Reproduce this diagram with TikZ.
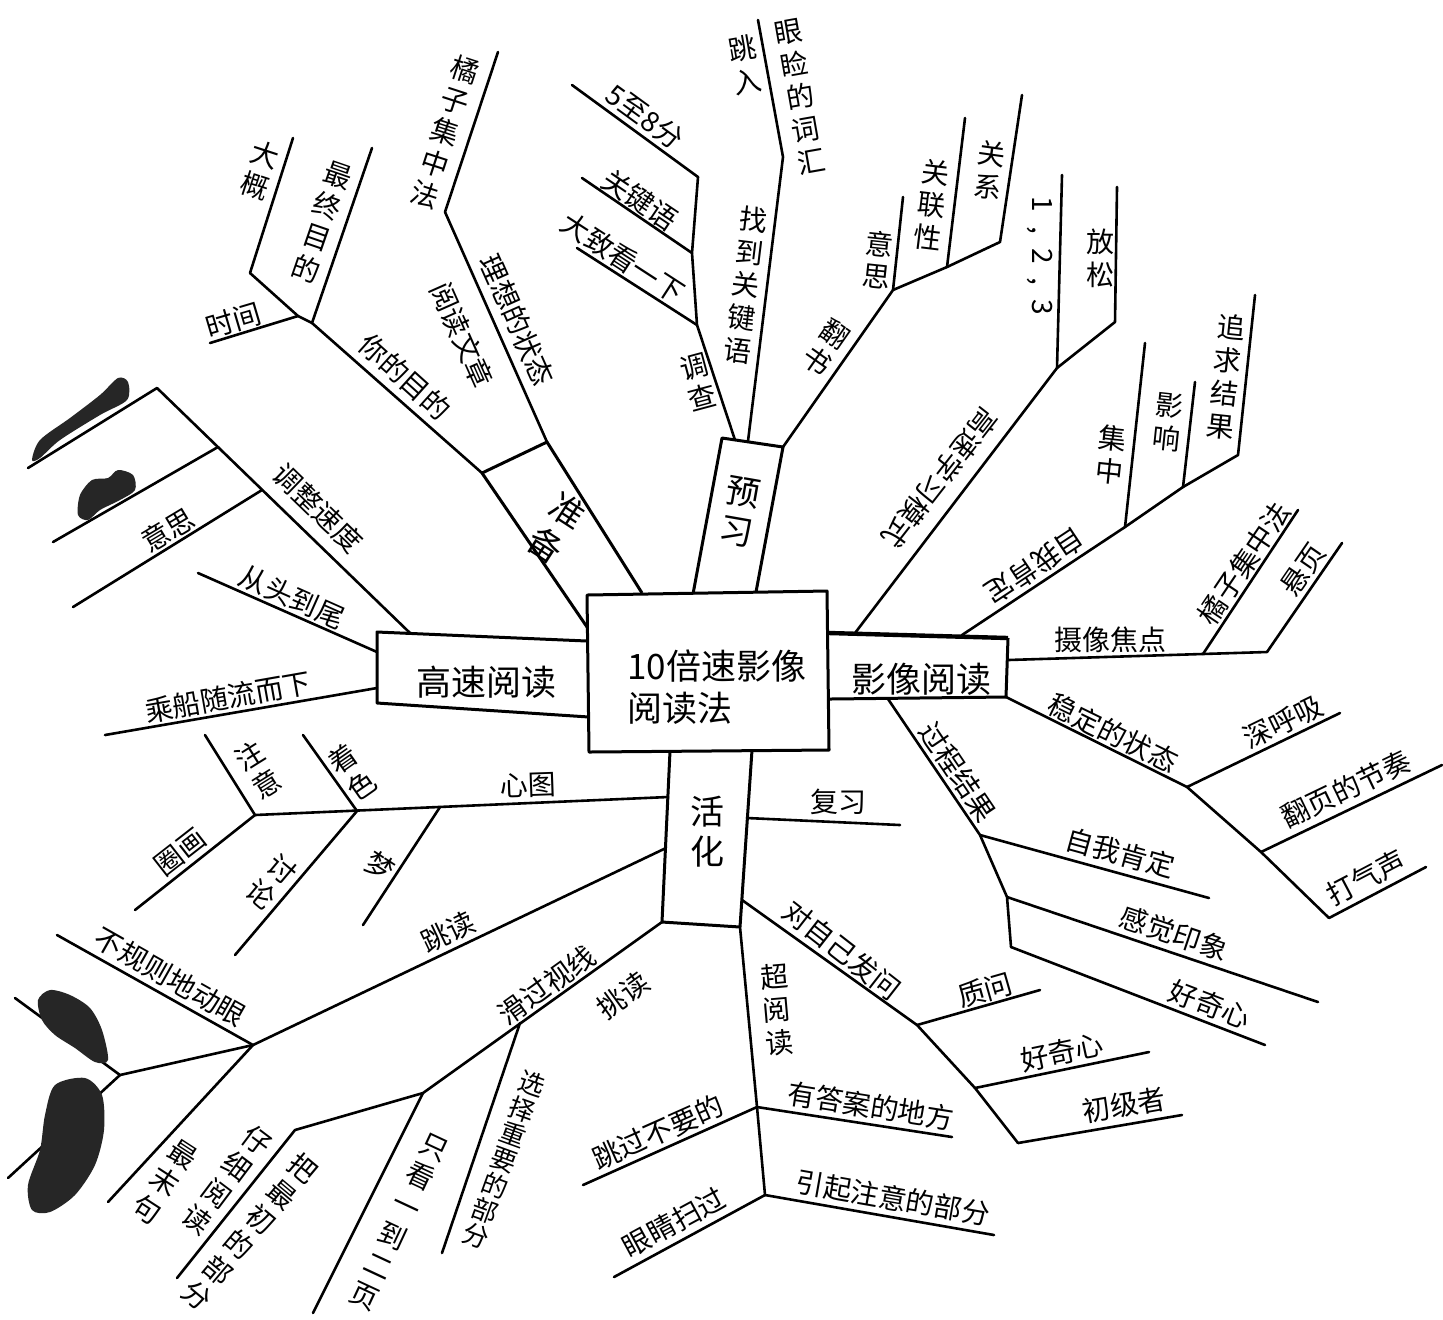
\documentclass[tikz,border=0pt]{standalone}
\usepackage{fontspec}
\setmainfont{Noto Sans CJK SC}
\begin{document}
\begin{tikzpicture}[x=0.5pt,y=-0.5pt,
  br/.style={line width=1.3pt, line cap=round, line join=round},
  bx/.style={line width=1.5pt, line join=round},
  lbl/.style={font=\fontsize{14}{16.5}\selectfont, inner sep=0pt},
  vlbl/.style={lbl, align=center},
  boxt/.style={font=\fontsize{17.5}{20}\selectfont, inner sep=0pt},
  boxv/.style={font=\fontsize{17}{20}\selectfont, inner sep=0pt, align=center},
  blob/.style={fill=black!85, draw=none}]
\useasboundingbox (0,0) rectangle (1443,1319);
\fill[white] (0,0) rectangle (1443,1319);

% ---------- centre box ----------
\coordinate (C1) at (587,595); \coordinate (C2) at (827,591);
\coordinate (C3) at (829,750); \coordinate (C4) at (589,752);
\draw[bx] (C1)--(C2)--(C3)--(C4)--cycle;
\node[boxt, anchor=west] (t10) at (627,666) {10倍速影像};
\node[boxt, anchor=west] (tyd) at (627,708) {阅读法};

% ---------- 高速阅读 ----------
\coordinate (G1) at (377,632); \coordinate (G2) at (587,641);
\coordinate (G3) at (589,717); \coordinate (G4) at (377,703);
\draw[bx] (G2)--(G1)--(G4)--(G3);
\node[boxt] (tgs) at (486,682) {高速阅读};

% ---------- 影像阅读 ----------
\coordinate (Y1) at (829,633); \coordinate (Y2) at (1008,638);
\coordinate (Y3) at (1006,697); \coordinate (Y4) at (830,699);
\draw[bx, line width=2.2pt] (Y1)--(Y2);
\draw[bx] (Y2)--(Y3)--(Y4);
\node[boxt] (tyx) at (921,679) {影像阅读};

% ---------- 准备 ----------
\coordinate (Z1) at (482,473); \coordinate (Z2) at (547,442);
\coordinate (Z3) at (587,627); \coordinate (Z4) at (642,593);
\draw[bx] (Z3)--(Z1)--(Z2)--(Z4);
\node[boxv, rotate=-33] (tzb) at (557,528) {准\\备};

% ---------- 预习 ----------
\coordinate (P1) at (722,438); \coordinate (P2) at (783,447);
\coordinate (P3) at (693,594); \coordinate (P4) at (756,592);
\draw[bx] (P3)--(P1)--(P2)--(P4);
\node[boxv, rotate=-10] (tyxi) at (740,512) {预\\习};

% ---------- 活化 ----------
\coordinate (H1) at (670,751); \coordinate (H2) at (752,750);
\coordinate (H3) at (662,922); \coordinate (H4) at (740,927);
\draw[bx] (H1)--(H3)--(H4);
\draw[bx] (H2)--(H4);
\node[boxv] (thh) at (707,832) {活\\化};

% ---------- 调整速度 group ----------
\coordinate (A0) at (410,633); \coordinate (A1) at (157,388);
\coordinate (A2) at (218,447); \coordinate (A3) at (262,490);
\coordinate (AL1) at (28,468); \coordinate (AL2) at (53,542); \coordinate (AL3) at (73,607);
\draw[br] (A0)--(A1)--(AL1);
\draw[br] (A2)--(AL2);
\draw[br] (A3)--(AL3);
\node[lbl, rotate=-44] (ltz) at (318,508) {调整速度};
\node[lbl, rotate=31] (lys1) at (168,530) {意思};
\fill[blob] plot[smooth cycle] coordinates {(32,460) (40,440) (70,418) (100,395) (118,378) (128,382) (127,400) (100,415) (60,440) (40,458)};
\fill[blob] plot[smooth cycle] coordinates {(78,515) (80,495) (92,480) (108,478) (118,470) (133,475) (135,490) (120,500) (100,510) (88,520)};

% ---------- 从头到尾 / 乘船随流而下 ----------
\coordinate (F0) at (377,652); \coordinate (F1) at (198,573);
\draw[br] (F0)--(F1);
\node[lbl, rotate=-24] (lct) at (292,597) {从头到尾};
\coordinate (S0) at (377,688); \coordinate (S1) at (105,735);
\draw[br] (S0)--(S1);
\node[lbl, rotate=10] (lcc) at (228,697) {乘船随流而下};

% ---------- 心图 ----------
\coordinate (X0) at (668,797); \coordinate (X1) at (255,815);
\coordinate (X2) at (357,811); \coordinate (X3) at (440,807);
\coordinate (N1) at (205,735); \coordinate (Q1) at (135,910);
\coordinate (K1) at (303,735); \coordinate (T1) at (235,955); \coordinate (M1) at (363,925);
\draw[br] (X0)--(X1)--(N1);
\draw[br] (X1)--(Q1);
\draw[br] (X2)--(K1);
\draw[br] (X2)--(T1);
\draw[br] (X3)--(M1);
\node[lbl, rotate=2] (lxt) at (528,785) {心图};
\node[vlbl, rotate=32] (lzy) at (258,770) {注\\意};
\node[lbl, rotate=38] (lqh) at (180,852) {圈画};
\node[vlbl, rotate=35] (lzs) at (352,772) {着\\色};
\node[vlbl, rotate=-40] (ltl) at (272,882) {讨\\论};
\node[lbl, rotate=-33] (lmeng) at (380,866) {梦};

% ---------- 跳读 ----------
\coordinate (J0) at (666,848); \coordinate (J1) at (253,1045);
\coordinate (B1) at (57,935); \coordinate (J2) at (120,1075);
\coordinate (BL1) at (15,998); \coordinate (BL2) at (8,1178); \coordinate (E1) at (108,1202);
\draw[br] (J0)--(J1)--(B1);
\draw[br] (J1)--(J2)--(BL1);
\draw[br] (J2)--(BL2);
\draw[br] (J1)--(E1);
\node[lbl, rotate=25.5] (ltd) at (448,932) {跳读};
\node[lbl, rotate=-29.5] (lbg) at (170,977) {不规则地动眼};
\node[vlbl, rotate=-33] (lmm) at (165,1182) {最\\末\\句};
\fill[blob] plot[smooth cycle] coordinates {(38,1000) (50,990) (70,995) (90,1008) (102,1030) (108,1060) (95,1062) (75,1048) (55,1035) (42,1020)};
\fill[blob] plot[smooth cycle] coordinates {(55,1085) (85,1078) (102,1095) (104,1130) (95,1165) (75,1195) (50,1212) (32,1210) (28,1185) (40,1150) (45,1115)};

% ---------- 滑过视线 ----------
\coordinate (W1) at (423,1093); \coordinate (W2) at (295,1130);
\coordinate (W3) at (177,1278); \coordinate (W4) at (313,1313);
\coordinate (W5) at (520,1023); \coordinate (W6) at (442,1253);
\draw[br] (H3)--(W1)--(W2)--(W3);
\draw[br] (W1)--(W4);
\draw[br] (W5)--(W6);
\node[lbl, rotate=35.6] (lhg) at (547,985) {滑过视线};
\node[lbl, rotate=36] (ltiao) at (623,995) {挑读};
\node[vlbl, rotate=-37] (lzx) at (227,1180) {仔\\细\\阅\\读};
\node[vlbl, rotate=-40] (lbz) at (250,1232) {把\\最\\初\\的\\部\\分};
\node[vlbl, rotate=-25] (lzk) at (399,1222) {只\\看\\一\\到\\二\\页};
\node[align=center, inner sep=0pt, font=\fontsize{13}{13.5}\selectfont, rotate=-20] (lxz) at (504,1160) {选\\择\\重\\要\\的\\部\\分};

% ---------- 活化 right / 超阅读 ----------
\coordinate (R1) at (757,1107); \coordinate (R2) at (765,1195);
\coordinate (D0) at (742,900); \coordinate (D1) at (917,1025);
\coordinate (D2) at (975,1088); \coordinate (D3) at (1018,1143);
\coordinate (DQ) at (1040,990); \coordinate (DH) at (1149,1052); \coordinate (DC) at (1182,1115);
\coordinate (RY) at (952,1137); \coordinate (RT) at (583,1185);
\coordinate (RQ) at (994,1235); \coordinate (RS) at (614,1277);
\coordinate (FX0) at (747,818); \coordinate (FX1) at (900,825);
\draw[br] (H4)--(R1)--(R2);
\draw[br] (D0)--(D1)--(D2)--(D3);
\draw[br] (D1)--(DQ);
\draw[br] (D2)--(DH);
\draw[br] (D3)--(DC);
\draw[br] (R1)--(RY);
\draw[br] (R1)--(RT);
\draw[br] (R2)--(RQ);
\draw[br] (R2)--(RS);
\draw[br] (FX0)--(FX1);
\node[lbl] (lfx) at (838,802) {复习};
\node[vlbl, rotate=5] (lcy) at (777,1010) {超\\阅\\读};
\node[lbl, rotate=-38] (ldz) at (842,950) {对自己发问};
\node[lbl, rotate=16] (lzw) at (985,990) {质问};
\node[lbl, rotate=12] (lhq1) at (1062,1052) {好奇心};
\node[lbl, rotate=10] (lcj) at (1124,1105) {初级者};
\node[lbl, rotate=-9] (lyd) at (871,1106) {有答案的地方};
\node[lbl, rotate=24] (ltg) at (658,1132) {跳过不要的};
\node[lbl, rotate=-10] (lyq) at (893,1198) {引起注意的部分};
\node[lbl, rotate=28.5] (lyj) at (674,1222) {眼睛扫过};

% ---------- 影像阅读 right ----------
\coordinate (O1) at (1187,787); \coordinate (O2) at (1261,852); \coordinate (O3) at (1329,918);
\coordinate (OS) at (1340,713); \coordinate (OF) at (1442,765); \coordinate (OD) at (1426,867);
\draw[br] (Y3)--(O1)--(O2)--(O3);
\draw[br] (O1)--(OS);
\draw[br] (O2)--(OF);
\draw[br] (O3)--(OD);
\node[lbl, rotate=-26] (lwd) at (1113,733) {稳定的状态};
\node[lbl, rotate=26] (lshx) at (1283,722) {深呼吸};
\node[lbl, rotate=25.7] (lfy) at (1346,789) {翻页的节奏};
\node[lbl, rotate=27.7] (ldq) at (1366,878) {打气声};

\coordinate (V0) at (888,699); \coordinate (V1) at (980,835);
\coordinate (V2) at (1007,897); \coordinate (V3) at (1011,947);
\coordinate (VZ) at (1209,898); \coordinate (VG) at (1318,1002); \coordinate (VH) at (1265,1045);
\draw[br] (V0)--(V1)--(V2)--(V3);
\draw[br] (V1)--(VZ);
\draw[br] (V2)--(VG);
\draw[br] (V3)--(VH);
\node[lbl, rotate=-56] (lgc) at (958,772) {过程结果};
\node[lbl, rotate=-15.4] (lzw2) at (1120,853) {自我肯定};
\node[lbl, rotate=-18.6] (lgj) at (1174,933) {感觉印象};
\node[lbl, rotate=-21] (lhq2) at (1210,1005) {好奇心};

\coordinate (K0) at (1008,660); \coordinate (KK1) at (1267,652); \coordinate (KK2) at (1203,654);
\coordinate (KJ) at (1298,510); \coordinate (KX) at (1342,543);
\draw[br] (K0)--(KK1)--(KX);
\draw[br] (KK2)--(KJ);
\node[lbl] (lsx) at (1110,640) {摄像焦点};
\node[lbl, rotate=56] (ljz1) at (1244,563) {橘子集中法};
\node[lbl, rotate=55.5] (lxy) at (1303,570) {悬页};

\coordinate (L0) at (855,633); \coordinate (L1) at (1057,368);
\coordinate (L2) at (1062,175); \coordinate (L3) at (1115,322); \coordinate (L4) at (1117,187);
\draw[br] (L0)--(L1)--(L2);
\draw[br] (L1)--(L3)--(L4);
\node[lbl, rotate=232] (lgsx) at (940,478) {高速学习模式};
\node[lbl, rotate=-90] (l123) at (1040,256) {1\enspace,\enspace2\enspace,\enspace3};
\node[vlbl] (lfs) at (1100,258) {放\\松};

\coordinate (SS0) at (962,635); \coordinate (SS1) at (1125,527);
\coordinate (SS2) at (1183,487); \coordinate (SS3) at (1238,455);
\coordinate (SJ) at (1145,343); \coordinate (SY) at (1195,382); \coordinate (SZ) at (1255,295);
\draw[br] (SS0)--(SS1)--(SS2)--(SS3)--(SZ);
\draw[br] (SS1)--(SJ);
\draw[br] (SS2)--(SY);
\node[lbl, rotate=213.6] (lzwk) at (1035,566) {自我肯定};
\node[vlbl, rotate=-6] (ljzh) at (1111,455) {集\\中};
\node[vlbl, rotate=-6] (lyx2) at (1168,422) {影\\响};
\node[vlbl, rotate=-6] (lzq) at (1226,377) {追\\求\\结\\果};

% ---------- 预习 top ----------
\coordinate (Q0) at (735,440); \coordinate (QQ1) at (697,325);
\coordinate (QQ2) at (692,253); \coordinate (QQ3) at (698,177);
\coordinate (Q5) at (572,85); \coordinate (Q6) at (582,178); \coordinate (Q7) at (577,248);
\draw[br] (Q0)--(QQ1)--(QQ2)--(QQ3)--(Q5);
\draw[br] (QQ2)--(Q6);
\draw[br] (QQ1)--(Q7);
\node[lbl, rotate=-36] (l58) at (645,117) {5至8分};
\node[lbl, rotate=-34] (lgjy) at (640,200) {关键语};
\node[lbl, rotate=-33] (ldz2) at (623,258) {大致看一下};
\node[vlbl, rotate=15] (ldc) at (698,382) {调\\查};

\coordinate (RR0) at (748,441); \coordinate (RR1) at (783,157); \coordinate (RR2) at (758,20);
\draw[br] (RR0)--(RR1)--(RR2);
\node[vlbl, rotate=-7] (lzd) at (746,285) {找\\到\\关\\键\\语};
\node[vlbl, rotate=10] (lyj2) at (800,97) {眼\\睑\\的\\词\\汇};
\node[vlbl, rotate=10] (ltr) at (745,65) {跳\\入};

\coordinate (FS1) at (893,290); \coordinate (FS2) at (947,267); \coordinate (FS3) at (1000,242);
\coordinate (FY) at (903,197); \coordinate (FL) at (965,118); \coordinate (FG) at (1022,95);
\draw[br] (P2)--(FS1)--(FS2)--(FS3)--(FG);
\draw[br] (FS1)--(FY);
\draw[br] (FS2)--(FL);
\node[vlbl, rotate=-35] (lfsh) at (826,347) {翻\\书};
\node[vlbl, rotate=-6] (lys2) at (878,260) {意\\思};
\node[vlbl, rotate=-7] (lgl) at (932,205) {关\\联\\性};
\node[vlbl, rotate=-8] (lgx) at (990,170) {关\\系};

% ---------- 准备 top ----------
\coordinate (U1) at (312,323); \coordinate (U2) at (298,316);
\coordinate (U3) at (250,273); \coordinate (U4) at (293,138);
\coordinate (UZ) at (372,148); \coordinate (UT) at (210,343);
\draw[br] (Z1)--(U1)--(U2)--(U3)--(U4);
\draw[br] (U1)--(UZ);
\draw[br] (U2)--(UT);
\node[lbl, rotate=-42] (lnd) at (405,377) {你的目的};
\node[vlbl, rotate=-18] (ldg) at (260,170) {大\\概};
\node[vlbl, rotate=-19] (lzz) at (322,222) {最\\终\\目\\的};
\node[lbl, rotate=16.5] (lsj) at (233,320) {时间};

\coordinate (VV1) at (445,212); \coordinate (VV2) at (498,52);
\draw[br] (Z2)--(VV1)--(VV2);
\node[lbl, rotate=-66] (llx) at (517,320) {理想的状态};
\node[lbl, rotate=-66] (lyw) at (462,335) {阅读文章};
\node[vlbl, rotate=-18] (ljz2) at (445,132) {橘\\子\\集\\中\\法};
\end{tikzpicture}
\end{document}
